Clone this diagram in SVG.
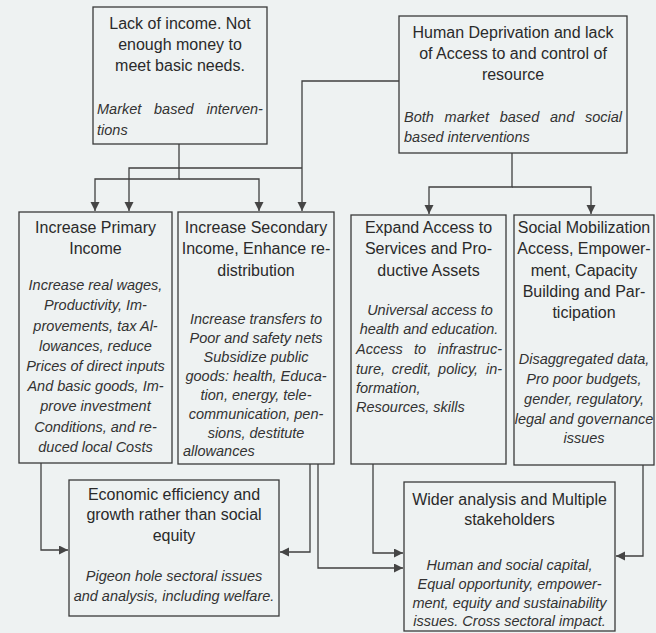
<svg xmlns="http://www.w3.org/2000/svg" width="656" height="633" viewBox="0 0 656 633">
<style>
.box{fill:none;stroke:#3a3a3a;stroke-width:1.3}
.h{font-family:"Liberation Sans",Arial,sans-serif;font-size:16px;fill:#2a2a2a;text-anchor:middle}
.i{font-family:"Liberation Sans",Arial,sans-serif;font-size:14.5px;font-style:italic;fill:#333}
.c{text-anchor:middle}
.conn path{fill:none;stroke:#404040;stroke-width:1.3}
</style>
<defs>
<marker id="arr" markerUnits="userSpaceOnUse" markerWidth="10" markerHeight="10" refX="9" refY="4.5" orient="auto">
<path d="M0,0 L9,4.5 L0,9 z" fill="#454545"/>
</marker>
</defs>
<rect width="656" height="633" fill="#eef2f2"/>

<g id="n1">
<rect class="box" x="93" y="7" width="174" height="137"/>
<text class="h" x="180" y="29">Lack of income. Not</text>
<text class="h" x="180" y="50">enough money to</text>
<text class="h" x="180" y="71">meet basic needs.</text>
<text class="i" y="114"><tspan x="97">Market</tspan> <tspan x="154">based</tspan> <tspan x="206.5">interven-</tspan></text>
<text class="i" x="97" y="135">tions</text>
</g>

<g id="n2">
<rect class="box" x="399" y="16" width="228" height="137"/>
<text class="h" x="513" y="38">Human Deprivation and lack</text>
<text class="h" x="513" y="59">of Access to and control of</text>
<text class="h" x="513" y="80">resource</text>
<text class="i" y="122"><tspan x="404">Both</tspan> <tspan x="444.6">market</tspan> <tspan x="499.7">based</tspan> <tspan x="550">and</tspan> <tspan x="585">social</tspan></text>
<text class="i" x="404" y="142">based interventions</text>
</g>

<g id="n3">
<rect class="box" x="19" y="212" width="153" height="251"/>
<text class="h" x="95.5" y="233">Increase Primary</text>
<text class="h" x="95.5" y="254">Income</text>
<text class="i c" x="95.5" y="290">Increase real wages,</text>
<text class="i c" x="95.5" y="310">Productivity, Im-</text>
<text class="i c" x="95.5" y="330.5">provements, tax Al-</text>
<text class="i c" x="95.5" y="350.5">lowances, reduce</text>
<text class="i c" x="95.5" y="371">Prices of direct inputs</text>
<text class="i c" x="95.5" y="391">And basic goods, Im-</text>
<text class="i c" x="95.5" y="411">prove investment</text>
<text class="i c" x="95.5" y="431.5">Conditions, and re-</text>
<text class="i c" x="95.5" y="452">duced local Costs</text>
</g>

<g id="n4">
<rect class="box" x="178" y="212" width="156" height="252"/>
<text class="h" x="256" y="233">Increase Secondary</text>
<text class="h" x="256" y="254">Income, Enhance re-</text>
<text class="h" x="256" y="276">distribution</text>
<text class="i c" x="256" y="324">Increase transfers to</text>
<text class="i c" x="256" y="343">Poor and safety nets</text>
<text class="i c" x="256" y="362">Subsidize public</text>
<text class="i c" x="256" y="381">goods: health, Educa-</text>
<text class="i c" x="256" y="400">tion, energy, tele-</text>
<text class="i c" x="256" y="419">communication, pen-</text>
<text class="i c" x="256" y="438">sions, destitute</text>
<text class="i" x="183" y="456">allowances</text>
</g>

<g id="n5">
<rect class="box" x="351" y="215" width="155" height="249"/>
<text class="h" x="428.5" y="233">Expand Access to</text>
<text class="h" x="428.5" y="254">Services and Pro-</text>
<text class="h" x="428.5" y="276">ductive Assets</text>
<text class="i c" x="430" y="315">Universal access to</text>
<text class="i c" x="429" y="334">health and education.</text>
<text class="i" y="354"><tspan x="356">Access</tspan> <tspan x="414">to</tspan> <tspan x="437.5">infrastruc-</tspan></text>
<text class="i" y="374"><tspan x="356">ture,</tspan> <tspan x="391.8">credit,</tspan> <tspan x="438.1">policy,</tspan> <tspan x="486">in-</tspan></text>
<text class="i" x="356" y="393">formation,</text>
<text class="i" x="356" y="412">Resources, skills</text>
</g>

<g id="n6">
<rect class="box" x="514" y="215" width="140" height="250"/>
<text class="h" x="584" y="233">Social Mobilization</text>
<text class="h" x="584" y="254">Access, Empower-</text>
<text class="h" x="584" y="276">ment, Capacity</text>
<text class="h" x="584" y="297">Building and Par-</text>
<text class="h" x="584" y="318">ticipation</text>
<text class="i c" x="584" y="364">Disaggregated data,</text>
<text class="i c" x="584" y="384">Pro poor budgets,</text>
<text class="i c" x="584" y="404">gender, regulatory,</text>
<text class="i c" x="584" y="424">legal and governance</text>
<text class="i c" x="584" y="443">issues</text>
</g>

<g id="n7">
<rect class="box" x="69" y="480" width="210" height="136"/>
<text class="h" x="174" y="500">Economic efficiency and</text>
<text class="h" x="174" y="520">growth rather than social</text>
<text class="h" x="174" y="541">equity</text>
<text class="i c" x="174" y="581">Pigeon hole sectoral issues</text>
<text class="i c" x="174" y="601">and analysis, including welfare.</text>
</g>

<g id="n8">
<rect class="box" x="404" y="482" width="211" height="149"/>
<text class="h" x="509.5" y="505">Wider analysis and Multiple</text>
<text class="h" x="509.5" y="525">stakeholders</text>
<text class="i c" x="509.5" y="570">Human and social capital,</text>
<text class="i c" x="509.5" y="589">Equal opportunity, empower-</text>
<text class="i c" x="509.5" y="608">ment, equity and sustainability</text>
<text class="i c" x="509.5" y="626">issues. Cross sectoral impact.</text>
</g>

<g id="connectors" class="conn">
<path d="M179,144 V179 H95 V211" marker-end="url(#arr)"/>
<path d="M179,179 H259 V211" marker-end="url(#arr)"/>
<path d="M399,81 H302 V211" marker-end="url(#arr)"/>
<path d="M302,168 H129 V211" marker-end="url(#arr)"/>
<path d="M512,153 V187 H429 V214" marker-end="url(#arr)"/>
<path d="M512,187 H591 V214" marker-end="url(#arr)"/>
<path d="M41,463 V550 H68" marker-end="url(#arr)"/>
<path d="M310,464 V552 H280" marker-end="url(#arr)"/>
<path d="M318,464 V568 H403" marker-end="url(#arr)"/>
<path d="M373,464 V553 H403" marker-end="url(#arr)"/>
<path d="M643,465 V556 H616" marker-end="url(#arr)"/>
</g>
</svg>
